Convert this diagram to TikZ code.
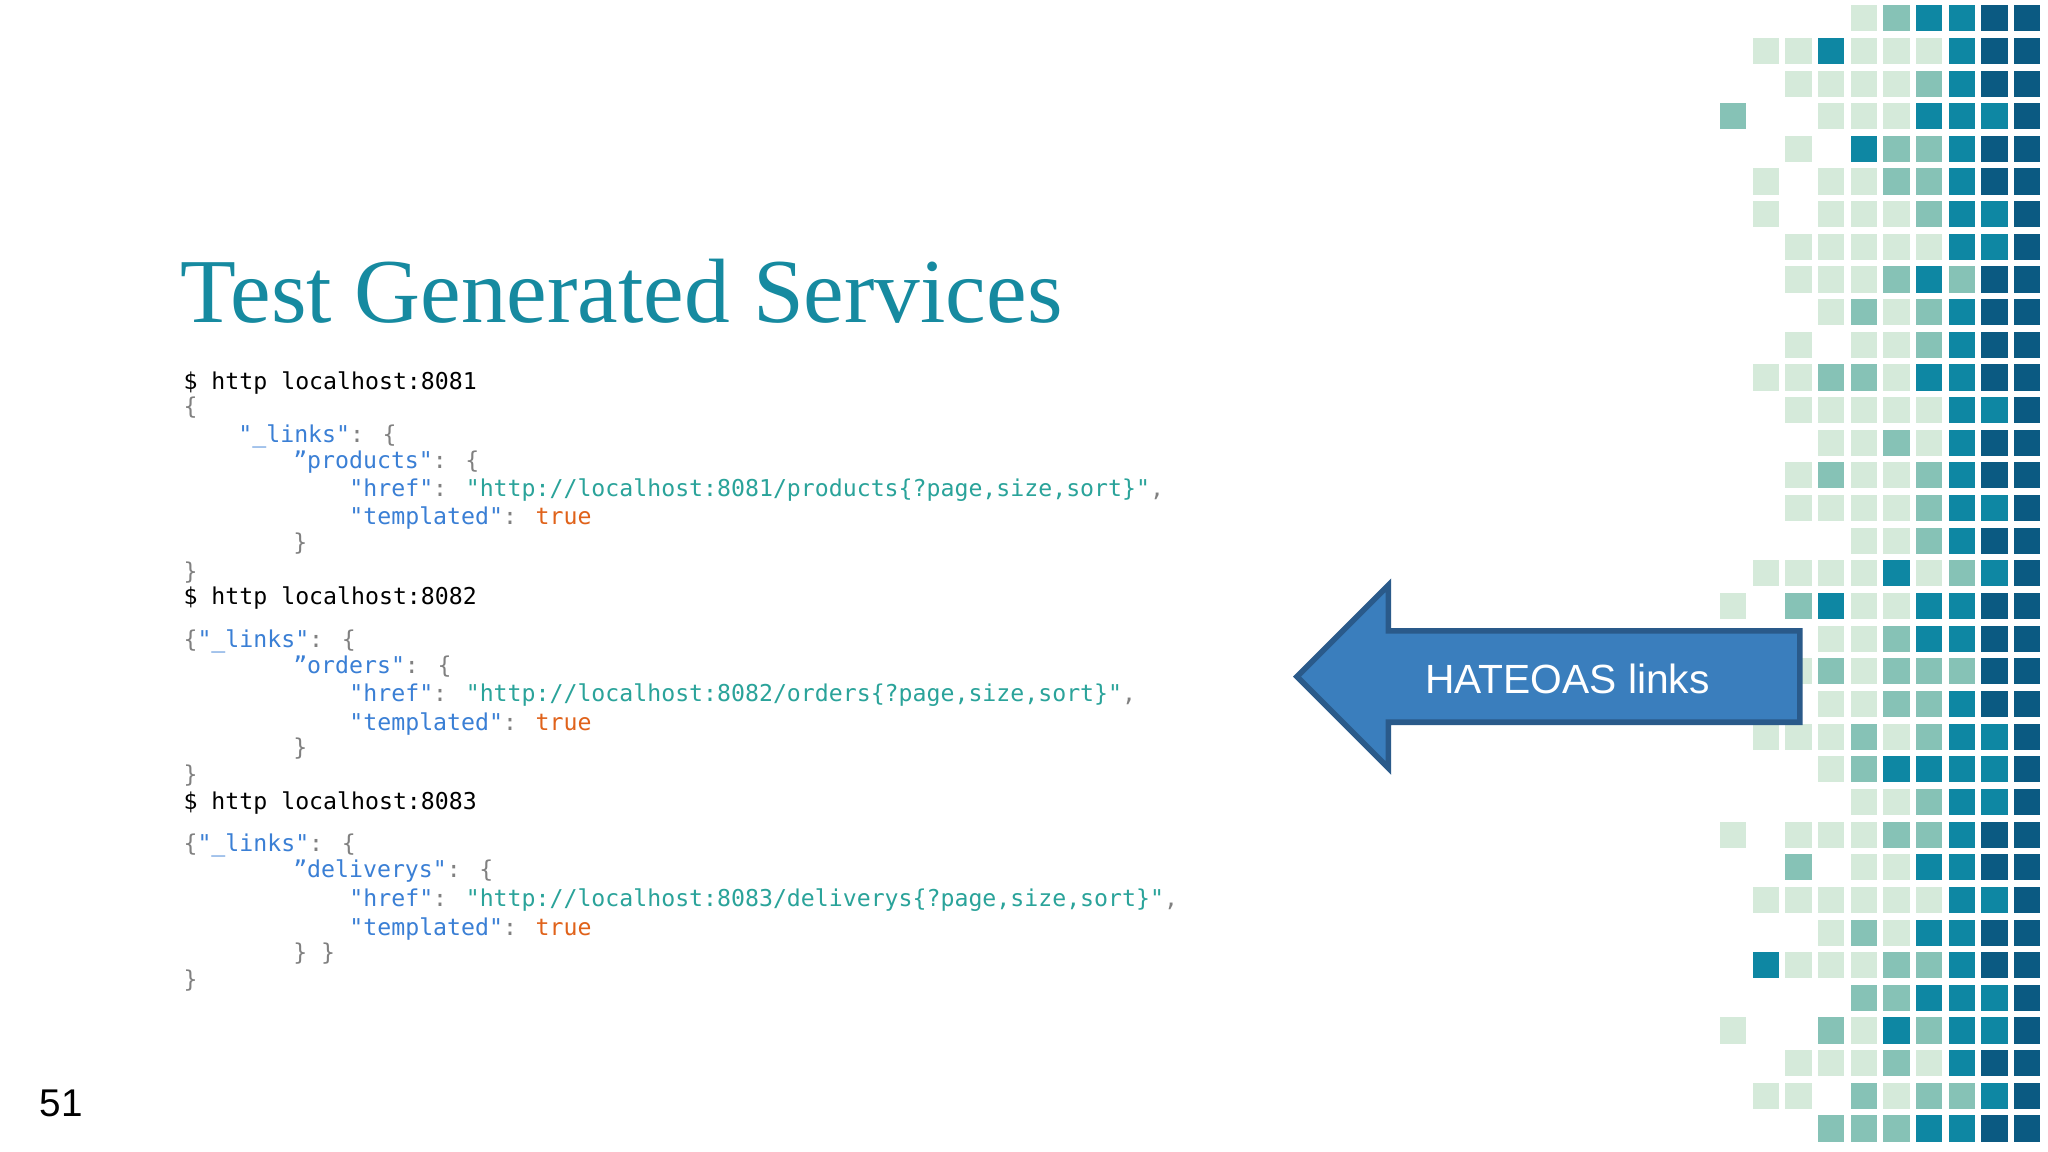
\documentclass[tikz,border=0pt]{standalone}
\usepackage{fontspec}
\setmainfont{Liberation Serif}
\newfontfamily\codefont{DejaVu Sans Mono}
\newfontfamily\arialfont{Liberation Sans}
\definecolor{c0}{HTML}{FFFFFF}
\definecolor{cL}{HTML}{D5EADA}
\definecolor{cM}{HTML}{86C2B6}
\definecolor{cT}{HTML}{0E87A3}
\definecolor{cD}{HTML}{0B5A82}
\definecolor{titlec}{HTML}{168AA0}
\definecolor{keyc}{HTML}{3A7FD5}
\definecolor{strc}{HTML}{2AA39A}
\definecolor{truec}{HTML}{E0621A}
\definecolor{punc}{HTML}{808080}
\definecolor{arrowfill}{HTML}{3A7EBD}
\definecolor{arrowline}{HTML}{2A5A8A}
\newcommand{\K}[1]{\textcolor{keyc}{#1}}
\newcommand{\Sv}[1]{\textcolor{strc}{#1}}
\newcommand{\Pn}[1]{\textcolor{punc}{#1}}
\newcommand{\Tr}{\textcolor{truec}{true}}
\tikzset{code/.style={anchor=west,inner sep=0pt,font=\codefont\fontsize{6.6}{8}\selectfont}}
\begin{document}
\begin{tikzpicture}[x=0.0130612cm,y=-0.0130612cm]
\useasboundingbox (0,0) rectangle (1568,882);
\fill[white] (0,0) rectangle (1568,882);
% mosaic
\foreach \rowlist [count=\r from 0] in {
{0,0,0,0,L,M,T,T,D,D},
{0,L,L,T,L,L,L,T,D,D},
{0,0,L,L,L,L,M,T,D,D},
{M,0,0,L,L,L,T,T,T,D},
{0,0,L,0,T,M,M,T,D,D},
{0,L,0,L,L,M,M,T,D,D},
{0,L,0,L,L,L,M,T,T,D},
{0,0,L,L,L,L,L,T,T,D},
{0,0,L,L,L,M,T,M,D,D},
{0,0,0,L,M,L,M,T,D,D},
{0,0,L,0,L,L,M,T,D,D},
{0,L,L,M,M,L,T,T,D,D},
{0,0,L,L,L,L,L,T,T,D},
{0,0,0,L,L,M,L,T,D,D},
{0,0,L,M,L,L,M,T,D,D},
{0,0,L,L,L,L,M,T,T,D},
{0,0,0,0,L,L,M,T,D,D},
{0,L,L,L,L,T,L,M,T,D},
{L,0,M,T,L,L,T,T,D,D},
{0,0,0,L,L,M,T,T,D,D},
{0,0,L,M,L,M,M,M,D,D},
{0,0,0,L,L,M,M,T,D,D},
{0,L,L,L,M,L,M,T,T,D},
{0,0,0,L,M,T,T,T,T,D},
{0,0,0,0,L,L,M,T,T,D},
{L,0,L,L,L,M,M,T,D,D},
{0,0,M,0,L,L,T,T,D,D},
{0,L,L,L,L,L,L,T,T,D},
{0,0,0,L,M,L,T,T,D,D},
{0,T,L,L,L,M,M,T,D,D},
{0,0,0,0,M,M,T,T,T,D},
{L,0,0,M,L,T,M,T,T,D},
{0,0,L,L,L,M,L,T,D,D},
{0,L,L,0,M,L,M,M,T,D},
{0,0,0,M,M,M,T,T,D,D}}{
  \foreach \c [count=\k from 0] in \rowlist {
    \fill[c\c] ({1317+25*\k},{4+25*\r}) rectangle ++(20,20);
  }
}
% title
\node[anchor=west,inner sep=0pt,text=titlec,font=\fontsize{26}{30}\selectfont] (title) at (138,223) {Test Generated Services};
% code
\node[code] (l1) at (140,293) {\$ http localhost:8081};
\node[code] (l2) at (140,312) {\Pn{\{}};
\node[code] (l3) at (182,334) {\K{"\_links"}\Pn{: \{}};
\node[code] (l4) at (224,354) {\K{”products"}\Pn{: \{}};
\node[code] (l5) at (267,375) {\K{"href"}\Pn{: }\Sv{"http://localhost:8081/products\{?page,size,sort\}"}\Pn{,}};
\node[code] (l6) at (267,397) {\K{"templated"}\Pn{: }\Tr};
\node[code] (l7) at (224,416) {\Pn{\}}};
\node[code] (l8) at (140,438) {\Pn{\}}};
\node[code] (m1) at (140,458) {\$ http localhost:8082};
\node[code] (m2) at (140,491) {\Pn{\{}\K{"\_links"}\Pn{: \{}};
\node[code] (m3) at (224,510) {\K{”orders"}\Pn{: \{}};
\node[code] (m4) at (267,532) {\K{"href"}\Pn{: }\Sv{"http://localhost:8082/orders\{?page,size,sort\}"}\Pn{,}};
\node[code] (m5) at (267,554) {\K{"templated"}\Pn{: }\Tr};
\node[code] (m6) at (224,573) {\Pn{\}}};
\node[code] (m7) at (140,594) {\Pn{\}}};
\node[code] (n1) at (140,615) {\$ http localhost:8083};
\node[code] (n2) at (140,647) {\Pn{\{}\K{"\_links"}\Pn{: \{}};
\node[code] (n3) at (224,667) {\K{”deliverys"}\Pn{: \{}};
\node[code] (n4) at (267,689) {\K{"href"}\Pn{: }\Sv{"http://localhost:8083/deliverys\{?page,size,sort\}"}\Pn{,}};
\node[code] (n5) at (267,711) {\K{"templated"}\Pn{: }\Tr};
\node[code] (n6) at (224,730) {\Pn{\} \}}};
\node[code] (n7) at (140,751) {\Pn{\}}};
% arrow
\draw[arrowline,line width=1.6pt,fill=arrowfill,line join=miter]
  (993,518) -- (1063,448) -- (1063,483) -- (1378,483) -- (1378,553) -- (1063,553) -- (1063,588) -- cycle;
\node[text=white,font=\arialfont\fontsize{11.6}{14}\selectfont] (lbl) at (1200,520) {HATEOAS links};
% page number
\node[font=\arialfont\fontsize{11}{13}\selectfont] (pg) at (47,845) {51};
\end{tikzpicture}
\end{document}
